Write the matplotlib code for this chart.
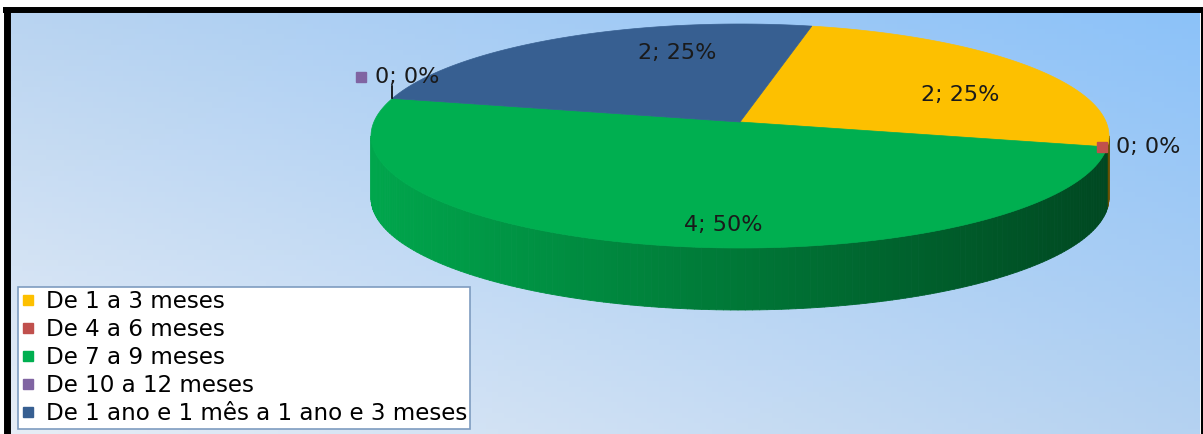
import numpy as np
import matplotlib.pyplot as plt
from matplotlib.patches import Polygon
from matplotlib.collections import PolyCollection
from matplotlib.lines import Line2D
from matplotlib.colors import to_rgb

categories = ["De 1 a 3 meses", "De 4 a 6 meses", "De 7 a 9 meses",
              "De 10 a 12 meses", "De 1 ano e 1 mês a 1 ano e 3 meses"]
counts = [2, 0, 4, 0, 2]
colors = ["#FDC000", "#C0504D", "#00AF50", "#8064A2", "#375F91"]

# pie layout, in pixel coordinates of the figure
cx, cy = 740, 136
rx, ry = 369, 112
depth = 62
persp = 0.125   # perspective: far side of the pie is squeezed
start = 77.3

plt.rcParams['font.family'] = ['DejaVu Sans']

fig = plt.figure(figsize=(12.03, 4.34), dpi=100)
ax = fig.add_axes([0, 0, 1, 1])
ax.set_xlim(0, 1203)
ax.set_ylim(434, 0)
ax.axis('off')

# background gradient inside the frame
tl, tr = np.array(to_rgb("#B9D4F1")), np.array(to_rgb("#8CC2F9"))
bl, br = np.array(to_rgb("#E6EDF6")), np.array(to_rgb("#B5D2F1"))
u = np.linspace(0, 1, 200)[None, :, None]
v = np.linspace(0, 1, 80)[:, None, None]
grad = (1 - v) * ((1 - u) * tl + u * tr) + v * ((1 - u) * bl + u * br)
ax.imshow(grad, extent=(10, 1200, 434, 13), aspect='auto', zorder=0)
ax.plot([6.5, 6.5], [434, 7], color='black', lw=5, solid_capstyle='butt', zorder=1)
ax.plot([3, 1203], [10, 10], color='black', lw=4.3, solid_capstyle='butt', zorder=1)
ax.plot([1201.5, 1201.5], [7, 434], color='black', lw=2.2, solid_capstyle='butt', zorder=1)

total = sum(counts)
spans = [c / total * 360 for c in counts]
edges = start - np.concatenate([[0], np.cumsum(spans)])


def proj(t, r=1.0, dy=0):
    # point at angle t (deg) and radius r of the pie, seen in perspective
    t = np.radians(t)
    uu, vv = r * np.cos(t), r * np.sin(t)
    d = 1 + persp * vv
    x = cx + rx * np.sqrt(1 - persp ** 2) * uu / d
    y = cy - ry * (vv + persp) / d + dy
    return x, y


apex = proj(0, 0)
# side of the cylinder seen between the two silhouette points
t_lo = -180 + np.degrees(np.arcsin(persp))
t_hi = -np.degrees(np.arcsin(persp))

strips, strip_cols = [], []
for i, c in enumerate(counts):
    if c == 0:
        continue
    hi, lo = edges[i], edges[i + 1]
    for shift in (0, 360, -360):
        a, b = max(lo + shift, t_lo), min(hi + shift, t_hi)
        if b <= a:
            continue
        ts = np.linspace(a, b, int(b - a) + 2)
        for t0, t1 in zip(ts[:-1], ts[1:]):
            x0, y0 = proj(t0)
            x1, y1 = proj(t1)
            strips.append([(x0, y0), (x1, y1), (x1, y1 + depth), (x0, y0 + depth)])
            k = 0.68 - 0.27 * (((x0 + x1) / 2 - cx) / rx)
            strip_cols.append(np.array(to_rgb(colors[i])) * k)
ax.add_collection(PolyCollection(strips, facecolors=strip_cols,
                                 edgecolors=strip_cols, linewidths=0.6, zorder=2))

# top face
for i, c in enumerate(counts):
    if c == 0:
        continue
    ts = np.linspace(edges[i], edges[i + 1], 200)
    pts = [apex] + [proj(t) for t in ts]
    ax.add_patch(Polygon(pts, closed=True, facecolor=colors[i],
                         edgecolor=colors[i], lw=0.5, zorder=3))

# data labels
fs = 16
label_pos = {0: (960, 95), 2: (723, 225), 4: (677, 53)}
for i, c in enumerate(counts):
    txt = f"{c}; {c / total * 100:.0f}%"
    if c > 0:
        ax.text(*label_pos[i], txt, fontsize=fs, ha='center', va='center',
                color='#1a1a1a', zorder=5)
    else:
        x, y = proj(edges[i])
        if x > cx:
            kx, ky = x - 5, y
        else:
            ax.plot([x, x], [y, y - 12], color='black', lw=1.2, zorder=5)
            kx, ky = x - 31, y - 21
        ax.plot(kx, ky, marker='s', ms=7.5, color=colors[i], mec=colors[i], zorder=5)
        ax.text(kx + 14, ky, txt, fontsize=fs, ha='left', va='center',
                color='#1a1a1a', zorder=5)

handles = [Line2D([], [], ls='none', marker='s', ms=7.5, color=col, mec=col)
           for col in colors]
leg = ax.legend(handles, categories, loc='upper left', bbox_to_anchor=(18 / 1203, 1 - 287 / 434),
                borderaxespad=0, fancybox=False, framealpha=1, edgecolor='#7E9CC0',
                fontsize=16.6, handlelength=0.6, handletextpad=0.45, labelspacing=0.215,
                borderpad=0.15)
leg.get_frame().set_linewidth(1.2)
leg.set_zorder(6)

fig.savefig("out.png", dpi=100)
